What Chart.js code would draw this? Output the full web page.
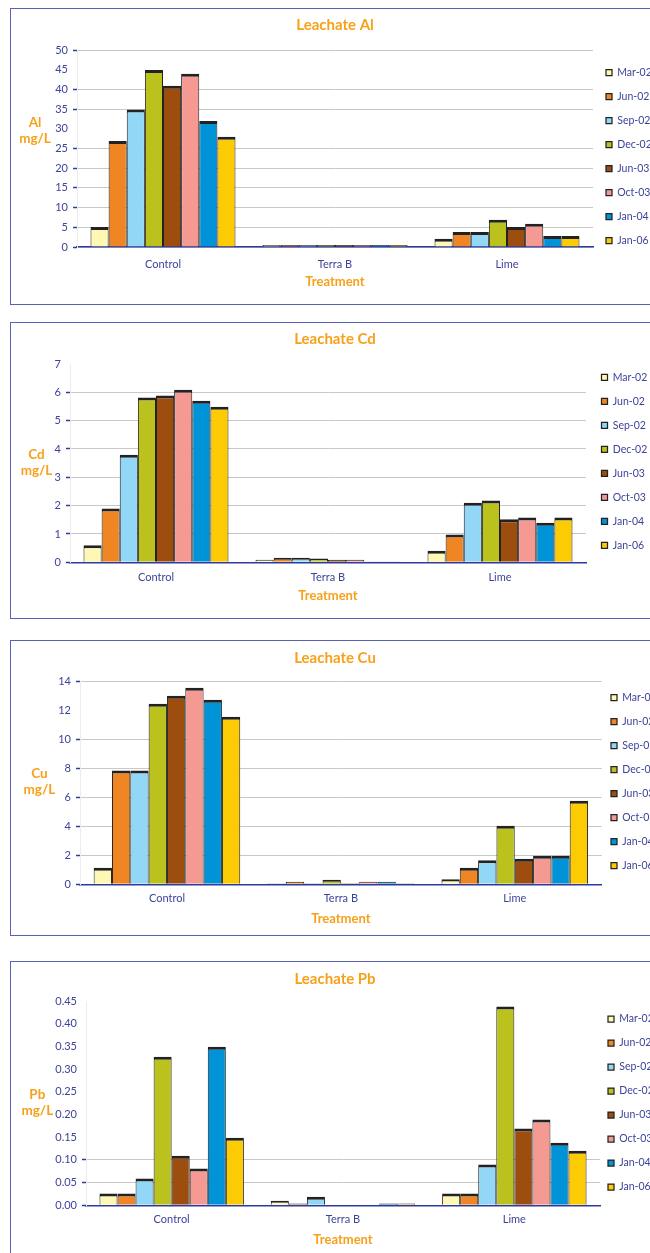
<!DOCTYPE html>
<html>
<head>
<meta charset="utf-8">
<title>Leachate metals</title>
<script src="https://cdn.jsdelivr.net/npm/chart.js@4.4.1/dist/chart.umd.min.js"></script>
<style>
  html, body { margin: 0; padding: 0; background: #fff; width: 650px; height: 1253px; overflow: hidden; position: relative; }
  .frame { position: absolute; left: 10px; width: 700px; box-sizing: border-box; border: 1.5px solid #5a60b3; }
  .wrap { position: absolute; left: 0; width: 670px; }
</style>
</head>
<body>

<script>
// categories and series
const treatments = ['Control', 'Terra B', 'Lime'];
const dates = ['Mar-02', 'Jun-02', 'Sep-02', 'Dec-02', 'Jun-03', 'Oct-03', 'Jan-04', 'Jan-06'];
const dateColors = ['#FFF8B4', '#EF8523', '#92D8F6', '#BBC21E', '#9D4D0E', '#F59A93', '#0093D7', '#FCCB04'];

// values, one array per treatment, in date order
const alControl = [5.1, 26.9, 34.9, 44.9, 40.9, 44, 32, 28];
const alTerraB  = [0.5, 0.5, 0.5, 0.5, 0.5, 0.5, 0.5, 0.5];
const alLime    = [2.1, 3.8, 3.8, 6.9, 5.1, 5.9, 2.8, 2.8];

const cdControl = [0.6, 1.9, 3.8, 5.82, 5.89, 6.09, 5.7, 5.49];
const cdTerraB  = [0.09, 0.16, 0.16, 0.13, 0.09, 0.09, 0.03, 0.03];
const cdLime    = [0.41, 0.98, 2.1, 2.18, 1.52, 1.58, 1.4, 1.58];

const cuControl = [1.15, 7.87, 7.87, 12.48, 13.03, 13.59, 12.76, 11.58];
const cuTerraB  = [0.07, 0.18, 0.07, 0.32, 0.07, 0.18, 0.18, 0.07];
const cuLime    = [0.35, 1.15, 1.66, 4.05, 1.77, 1.98, 1.98, 5.78];

const pbControl = [0.026, 0.026, 0.059, 0.327, 0.109, 0.081, 0.349, 0.149];
const pbTerraB  = [0.010, 0.004, 0.019, 0, 0, 0, 0.004, 0.004];
const pbLime    = [0.026, 0.026, 0.09, 0.438, 0.169, 0.189, 0.138, 0.12];

// y axis ticks per panel
const alTicks = { max: 50, step: 5, decimals: 0 };
const cdTicks = { max: 7, step: 1, decimals: 0 };
const cuTicks = { max: 14, step: 2, decimals: 0 };
const pbTicks = { max: 0.45, step: 0.05, decimals: 2 };

const ORANGE = '#F7A11A';
const BLUE_TXT = '#3D4399';
const AXIS = '#2E3A9E';
const FONT = 'Lato, "Open Sans", sans-serif';

// layout of each panel (top/height in page pixels, the rest relative to the panel top)
// hidden = tick values whose grid line / tick mark is missing in the original
const panels = [
  { metal: 'Al', values: [alControl, alTerraB, alLime], ticks: alTicks, hidden: [30, 45],
    top: 8, height: 297, titleY: 17, plotTop: 42, plotBottom: 239, plotL: 77, plotR: 593,
    catY: 256, treatY: 274, legendX: 609, legendY: 64.7, yTitleX: 35, yTitleY: 115 },
  { metal: 'Cd', values: [cdControl, cdTerraB, cdLime], ticks: cdTicks, hidden: [7],
    top: 322, height: 297, titleY: 17, plotTop: 42, plotBottom: 240.3, plotL: 70, plotR: 586,
    catY: 255.3, treatY: 274, legendX: 604.5, legendY: 55.3, yTitleX: 36.5, yTitleY: 132.3 },
  { metal: 'Cu', values: [cuControl, cuTerraB, cuLime], ticks: cuTicks, hidden: [12],
    top: 640, height: 296, titleY: 18.3, plotTop: 41.7, plotBottom: 244.3, plotL: 80, plotR: 601.7,
    catY: 258.3, treatY: 278.7, legendX: 614, legendY: 57.7, yTitleX: 39.4, yTitleY: 134 },
  { metal: 'Pb', values: [pbControl, pbTerraB, pbLime], ticks: pbTicks, hidden: [0.15, 0.2, 0.25, 0.3, 0.35, 0.4, 0.45],
    top: 961, height: 292, frameHeight: 320, titleY: 18.3, plotTop: 40, plotBottom: 244.3, plotL: 86, plotR: 600,
    catY: 258.3, treatY: 278.7, legendX: 611, legendY: 58, yTitleX: 37.3, yTitleY: 134 }
];

const LEG_FS = 10.5, LEG_PAD = 13.5, LEG_BOX = 6;

panels.forEach(function (p) {
  const frame = document.createElement('div');
  frame.className = 'frame';
  frame.style.top = p.top + 'px';
  frame.style.height = (p.frameHeight || p.height) + 'px';
  document.body.appendChild(frame);

  const wrap = document.createElement('div');
  wrap.className = 'wrap';
  wrap.style.top = p.top + 'px';
  wrap.style.height = p.height + 'px';
  const cv = document.createElement('canvas');
  cv.width = 670; cv.height = p.height;
  cv.style.width = '670px'; cv.style.height = p.height + 'px';
  wrap.appendChild(cv);
  document.body.appendChild(wrap);

  const isHidden = function (v) {
    return p.hidden.some(function (h) { return Math.abs(h - v) < 1e-9; });
  };

  const datasets = dates.map(function (d, i) {
    return {
      label: d,
      data: p.values.map(function (arr) { return arr[i]; }),
      backgroundColor: dateColors[i],
      borderColor: '#222',
      borderWidth: { top: 3, left: 1, right: 1, bottom: 0 },
      borderSkipped: false
    };
  });

  const xHeight = p.treatY - p.plotBottom + 7.8;

  new Chart(cv, {
    type: 'bar',
    data: { labels: treatments, datasets: datasets },
    options: {
      responsive: false,
      animation: false,
      events: [],
      layout: { padding: { top: 0, left: 0, right: 0, bottom: p.height - p.plotBottom - xHeight } },
      datasets: { bar: { categoryPercentage: 0.843, barPercentage: 1 } },
      scales: {
        x: {
          grid: { display: false, drawTicks: false },
          border: { color: AXIS, width: 1.5 },
          ticks: { color: BLUE_TXT, font: { family: FONT, size: 11 }, padding: p.catY - p.plotBottom - 6.6 },
          title: { display: true, text: 'Treatment', color: ORANGE, padding: 0,
                   font: { family: FONT, size: 13, weight: 'bold' } },
          afterFit: function (s) { s.height = xHeight; }
        },
        y: {
          min: 0, max: p.ticks.max,
          grid: {
            color: function (c) { return (c.tick && isHidden(c.tick.value)) ? 'rgba(0,0,0,0)' : '#c8c8c8'; },
            tickColor: function (c) { return (c.tick && isHidden(c.tick.value)) ? 'rgba(0,0,0,0)' : AXIS; },
            tickLength: 4, lineWidth: 1, tickWidth: 1.5
          },
          border: { color: '#ececec', width: 1 },
          ticks: {
            stepSize: p.ticks.step, color: BLUE_TXT, padding: 5,
            font: { family: FONT, size: 11 },
            callback: function (v) { return Number(v).toFixed(p.ticks.decimals); }
          },
          afterFit: function (s) { s.width = p.plotL; }
        }
      },
      plugins: {
        title: {
          display: true, text: 'Leachate ' + p.metal, color: ORANGE,
          font: { family: FONT, size: 15, weight: 'bold' },
          padding: { top: p.titleY - 9, bottom: p.plotTop - p.titleY - 9 }
        },
        legend: {
          position: 'right', align: 'start',
          labels: { color: BLUE_TXT, font: { family: FONT, size: LEG_FS }, boxWidth: LEG_BOX, boxHeight: LEG_BOX, padding: LEG_PAD }
        },
        tooltip: { enabled: false }
      }
    },
    plugins: [{
      id: 'panelLayout',
      beforeInit: function (chart) {
        // fixed legend width so the plot area ends where it does in the original
        const fit = chart.legend.fit;
        chart.legend.fit = function () {
          fit.bind(chart.legend)();
          this.width = 670 - p.plotR;
        };
      },
      beforeDraw: function (chart) {
        const lg = chart.legend;
        lg.left = p.legendX - 3 - LEG_PAD;
        lg.right = lg.left + lg.width;
        lg.top = p.legendY - LEG_PAD - LEG_FS / 2;
        lg.bottom = p.height;
      },
      afterDraw: function (chart) {
        // horizontal two-line y axis title
        const ctx = chart.ctx;
        ctx.save();
        ctx.fillStyle = ORANGE;
        ctx.font = 'bold 13.5px ' + FONT;
        ctx.textAlign = 'center';
        ctx.textBaseline = 'middle';
        ctx.fillText(p.metal, p.yTitleX, p.yTitleY);
        ctx.fillText('mg/L', p.yTitleX, p.yTitleY + 16);
        ctx.restore();
      }
    }]
  });
});
</script>
</body>
</html>
